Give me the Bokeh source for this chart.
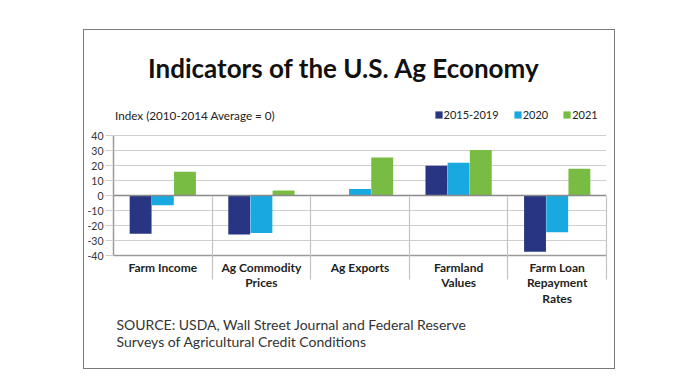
from bokeh.plotting import figure
from bokeh.models import (ColumnDataSource, Range1d, FixedTicker, Title,
                          Span, Label, Legend, LegendItem)
from bokeh.transform import dodge
from bokeh.embed import file_html
from bokeh.resources import INLINE

# ---- data ----
categories = ["Farm Income", "Ag Commodity\nPrices", "Ag Exports", "Farmland\nValues",
              "Farm Loan\nRepayment\nRates"]
series_names = ["2015-2019", "2020", "2021"]
vals_2015_2019 = [-25.5, -26, 0, 20, -37.5]
vals_2020 = [-6.5, -25, 4.5, 22, -24.5]
vals_2021 = [16, 3.5, 25.5, 30.5, 18]
y_ticks = [-40, -30, -20, -10, 0, 10, 20, 30, 40]
colors = ["#283583", "#18a9e1", "#78bc43"]

title_text = "Indicators of the U.S. Ag Economy"
subtitle_text = "Index (2010-2014 Average = 0)"
source_lines = ["SOURCE: USDA, Wall Street Journal and Federal Reserve",
                "Surveys of Agricultural Credit Conditions"]

FONT = "Lato"

n = len(categories)
centers = [i + 0.5 for i in range(n)]          # category slots on the x scale
bounds = [float(i) for i in range(1, n + 1)]    # separators between categories

src = ColumnDataSource(dict(pos=centers, cat=categories,
                            a=vals_2015_2019, b=vals_2020, c=vals_2021))

# the y range reaches above the 40 line so that the headline area sits inside the frame
p = figure(width=532, height=340, output_backend="svg", toolbar_location=None,
           x_range=Range1d(0, n), y_range=Range1d(y_ticks[0], 110.3),
           min_border_left=29, min_border_right=10, min_border_top=0, min_border_bottom=115,
           margin=(29, 0, 0, 83),
           styles={"border": "1.5px solid #7a7a7a"})
p.outline_line_color = None
p.background_fill_color = "white"
p.border_fill_color = "white"
p.xgrid.visible = False

# y axis
yax = p.yaxis[0]
yax.ticker = FixedTicker(ticks=y_ticks)
yax.bounds = (y_ticks[0], y_ticks[-1])
yax.major_label_overrides = {t: str(t) for t in y_ticks}
yax.minor_tick_line_color = None
yax.major_tick_in = 0
yax.major_tick_out = 8
yax.major_tick_line_color = "#cfcfcf"
yax.axis_line_color = "#9a9a9a"
yax.axis_line_width = 1.5
yax.major_label_text_font = FONT
yax.major_label_text_font_size = "10.5px"
yax.major_label_text_color = "#333333"
yax.major_label_standoff = 2
p.ygrid.ticker = FixedTicker(ticks=y_ticks)
p.ygrid.grid_line_color = "#cfcfcf"
p.ygrid.grid_line_width = 1

# bars
offsets = [-0.225, 0.0, 0.225]
fields = ["a", "b", "c"]
renderers = []
for f, off, col in zip(fields, offsets, colors):
    r = p.vbar(x=dodge("pos", off), top=f, bottom=0, width=0.222,
               source=src, fill_color=col, line_color=None)
    renderers.append(r)

# zero baseline
p.add_layout(Span(location=0, dimension="width", line_color="#8a8a8a", line_width=1.5))

# bottom axis: category names at slot centres, separators as minor ticks
xax = p.xaxis[0]
xax.ticker = FixedTicker(ticks=centers, minor_ticks=bounds)
xax.major_label_overrides = {c: name for c, name in zip(centers, categories)}
xax.major_tick_in = 0
xax.major_tick_out = 0
xax.minor_tick_in = 59
xax.minor_tick_out = 24
xax.minor_tick_line_color = "#c4c4c4"
xax.minor_tick_line_width = 1.2
xax.axis_line_color = "#9a9a9a"
xax.axis_line_width = 1.5
xax.major_label_text_font = FONT
xax.major_label_text_font_style = "bold"
xax.major_label_text_font_size = "12px"
xax.major_label_text_line_height = 1.05
xax.major_label_text_color = "#222222"
xax.major_label_standoff = -20

# legend (inside the frame, above the 40 line)
legend = Legend(items=[LegendItem(label=s, renderers=[r]) for s, r in zip(series_names, renderers)],
                orientation="horizontal", location=(320.5, 134.5),
                glyph_width=9, glyph_height=9, label_standoff=1, spacing=14,
                padding=0, margin=0, border_line_color=None, background_fill_alpha=0,
                label_text_font=FONT, label_text_font_size="11px",
                label_text_color="#222222", label_height=9)
p.add_layout(legend)

# headline texts
p.add_layout(Label(x=230.5, y=188, x_units="screen", y_units="screen", text=title_text,
                   text_align="center", text_baseline="alphabetic", text_font=FONT,
                   text_font_style="bold", text_font_size="26px", text_color="#111111"))
p.add_layout(Label(x=1.5, y=140.5, x_units="screen", y_units="screen", text=subtitle_text,
                   text_align="left", text_baseline="alphabetic", text_font=FONT,
                   text_font_size="11.7px", text_color="#222222"))

# source note under the axis
p.add_layout(Title(text="\n".join(source_lines), align="left", offset=3, standoff=9,
                   text_font=FONT, text_font_style="normal", text_font_size="14px",
                   text_line_height=1.0, text_color="#333333"), "below")

open("out.html", "w").write(file_html(p, INLINE))
